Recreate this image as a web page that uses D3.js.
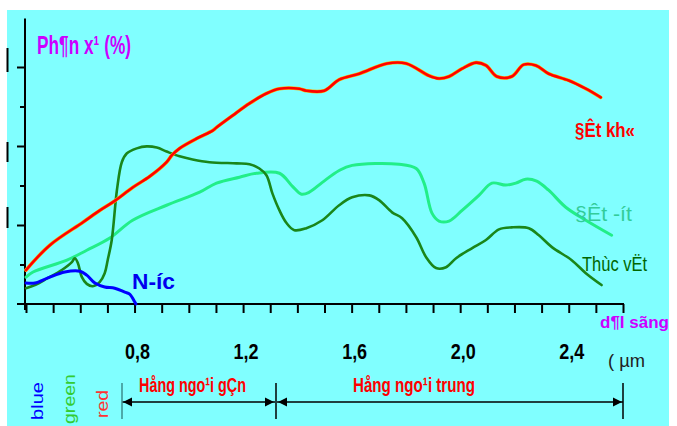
<!DOCTYPE html>
<html><head><meta charset="utf-8">
<script src="https://cdn.jsdelivr.net/npm/d3@7"></script>
<style>body{margin:0;background:#fff} svg{display:block}</style>
</head><body>
<svg id="c" width="677" height="426"></svg>
<script>
// ---- data (wavelength µm, reflectance %) ----
const datKho = [[0.40,8.6],[0.488,14.9],[0.61,20.7],[0.672,23.7],[0.727,26.1],[0.793,29.5],[0.856,32.3],[0.918,35.9],[0.937,37.6],[0.966,39.4],[1.029,41.9],[1.088,43.9],[1.102,44.7],[1.161,47.7],[1.224,50.8],[1.286,53.3],[1.334,54.5],[1.407,54.5],[1.433,54.0],[1.499,54.0],[1.554,56.8],[1.628,58.3],[1.731,60.9],[1.801,60.9],[1.885,57.8],[1.922,57.1],[1.959,57.6],[2.007,59.6],[2.058,61.1],[2.095,60.4],[2.135,57.6],[2.19,57.6],[2.234,60.6],[2.279,60.4],[2.326,58.3],[2.40,56.6],[2.463,54.5],[2.518,52.3]];
const thucVat = [[0.40,4.0],[0.433,4.8],[0.481,6.6],[0.532,8.6],[0.569,10.6],[0.58,11.6],[0.591,10.4],[0.606,6.8],[0.624,5.1],[0.646,4.5],[0.672,5.6],[0.69,7.8],[0.701,11.1],[0.716,16.2],[0.735,28.8],[0.753,35.9],[0.771,38.1],[0.808,39.4],[0.845,39.9],[0.882,39.6],[0.918,38.6],[0.966,37.4],[1.014,36.6],[1.076,35.9],[1.176,35.6],[1.224,35.4],[1.26,34.3],[1.286,32.6],[1.308,28.0],[1.334,23.7],[1.36,20.5],[1.389,18.7],[1.433,19.2],[1.492,21.2],[1.554,25.0],[1.602,27.0],[1.665,27.5],[1.701,26.3],[1.749,23.2],[1.786,21.7],[1.838,16.9],[1.874,11.9],[1.911,9.1],[1.948,9.3],[1.985,11.6],[2.043,14.1],[2.095,16.2],[2.143,18.9],[2.19,19.4],[2.253,19.2],[2.29,17.4],[2.338,14.4],[2.411,11.1],[2.463,7.8],[2.521,4.8]];
const datUot = [[0.40,6.8],[0.426,8.1],[0.551,11.1],[0.624,13.6],[0.709,16.7],[0.793,21.2],[0.918,25.0],[1.04,28.3],[1.102,30.6],[1.187,32.1],[1.249,33.1],[1.334,33.1],[1.382,29.8],[1.415,27.8],[1.444,28.3],[1.492,30.8],[1.554,33.8],[1.602,35.1],[1.775,35.4],[1.838,34.3],[1.867,30.6],[1.896,23.0],[1.922,21.0],[1.959,21.0],[2.007,23.7],[2.069,27.5],[2.117,30.6],[2.168,30.1],[2.205,30.6],[2.241,31.6],[2.282,31.1],[2.326,28.8],[2.389,24.5],[2.463,21.2],[2.558,17.4]];
const nuoc = [[0.40,5.3],[0.433,5.3],[0.481,6.6],[0.543,8.1],[0.599,8.3],[0.624,7.3],[0.654,5.3],[0.69,4.3],[0.727,4.0],[0.764,3.0],[0.782,2.5],[0.801,0.5],[0.805,0]];
const xTicks = d3.range(4, 27).map(d => d / 10);
const xLabels = [0.8, 1.2, 1.6, 2.0, 2.4];
const yMajor = [20, 40, 60];
const yMinor = [10, 30, 50];
const bands = [{name:"Hång ngo¹i gÇn", from:0.75, to:1.31}, {name:"Hång ngo¹i trung", from:1.31, to:2.6}];

const NARROW = "'Liberation Sans Narrow','Arial Narrow','Liberation Sans',Arial,sans-serif";
const svg = d3.select('#c');
svg.append('rect').attr('x',7).attr('y',10).attr('width',662).attr('height',416).attr('fill','#80FFFF');

const x = d3.scaleLinear().domain([0.4, 2.6]).range([26, 623]);
const y = d3.scaleLinear().domain([0, 60]).range([304, 67]);

// small marks at the left edge
[[48,72],[142,162],[207,228]].forEach(([a,b]) =>
  svg.append('line').attr('x1',7.5).attr('x2',7.5).attr('y1',a).attr('y2',b).attr('stroke','#000').attr('stroke-width',2));

// y axis
svg.append('line').attr('x1',25).attr('x2',25).attr('y1',y(0)+6).attr('y2',y(72.3)).attr('stroke','#000').attr('stroke-width',2);
const gyM = svg.append('g').attr('transform','translate(25,0)').call(d3.axisLeft(y).tickValues(yMajor).tickSize(8).tickFormat(''));
const gym = svg.append('g').attr('transform','translate(25,0)').call(d3.axisLeft(y).tickValues(yMinor).tickSize(5).tickFormat(''));
[gyM, gym].forEach(g => { g.select('.domain').remove(); g.selectAll('line').attr('stroke','#000').attr('stroke-width',2); });

// x axis
svg.append('line').attr('x1',17).attr('x2',x(2.6)+1).attr('y1',304).attr('y2',304).attr('stroke','#000').attr('stroke-width',2);
const gx = svg.append('g').attr('transform','translate(0,304)').call(d3.axisBottom(x).tickValues(xTicks).tickSize(9).tickFormat(''));
gx.select('.domain').remove();
gx.selectAll('line').attr('stroke','#000').attr('stroke-width',2);

svg.selectAll('.xl').data(xLabels).enter().append('text')
  .attr('x', d => x(d) + 3).attr('y', 359).attr('text-anchor','middle')
  .attr('font-family', NARROW).attr('font-weight','bold').attr('font-size',22).attr('fill','#000')
  .attr('textLength', 25).attr('lengthAdjust','spacingAndGlyphs')
  .text(d => d.toFixed(1).replace('.', ','));

// curves
const line = d3.line().x(d => x(d[0])).y(d => y(d[1])).curve(d3.curveCatmullRom.alpha(0.5));
function path(data, color, w){ svg.append('path').datum(data).attr('d', line).attr('fill','none').attr('stroke',color).attr('stroke-width',w).attr('stroke-linejoin','round').attr('stroke-linecap','round'); }
path(datUot, '#22EE88', 3);
path(thucVat, '#1A861A', 2.6);
path(datKho, '#FFB000', 3.6);
path(datKho, '#FF0000', 2.6);
path(nuoc, '#0000FF', 3);

// text helper
function txt(s, px, py, size, color, weight, len, family){
  const t = svg.append('text').attr('x',px).attr('y',py).attr('font-size',size).attr('fill',color)
    .attr('font-family', family || NARROW).attr('font-weight', weight || 'normal').text(s);
  if (len) t.attr('textLength', len).attr('lengthAdjust','spacingAndGlyphs');
  return t;
}
txt('Ph¶n x¹ (%)', 37, 54, 25, '#CC00FF', 'bold', 94);
txt('§Êt kh«', 575, 137, 21, '#FF0000', 'bold', 60);
txt('§Êt -ít', 575, 221, 20, '#33CC99', 'normal', 57);
txt('Thùc vËt', 582, 271, 21, '#006600', 'normal', 65);
txt('N-íc', 132, 289, 22, '#0000EE', 'bold', 43);
txt('d¶I sãng', 600, 328, 17, '#CC00FF', 'bold', null);
txt('( µm', 608, 367, 19, '#222', 'normal', 37);

// vertical colour words
[['blue','#0000FF',43,382,38],['green','#33CC33',75,374,50],['red','#FF3333',108,390,28]].forEach(([s,c,px,py,len]) => {
  svg.append('text').attr('transform',`translate(${px},${py}) rotate(-90)`).attr('text-anchor','end')
    .attr('font-family', "'Liberation Sans',Arial,sans-serif").attr('font-size',17).attr('fill',c)
    .attr('textLength',len).attr('lengthAdjust','spacingAndGlyphs').text(s);
});

// band arrows
const ay = 402;
function arrowHead(px, dir){ // dir -1 points left, +1 points right
  svg.append('path').attr('d', `M${px},${ay} L${px - dir*9},${ay-4.5} L${px - dir*9},${ay+4.5} Z`).attr('fill','#000');
}
bands.forEach((b, i) => {
  const xa = i === 0 ? 122 : 277;
  const xb = i === 0 ? 275 : x(b.to);
  svg.append('line').attr('x1',xa).attr('x2',xb).attr('y1',ay).attr('y2',ay).attr('stroke','#000').attr('stroke-width',1.5);
  arrowHead(xa + 1, -1); arrowHead(xb - 1, 1);
});
[[122,'#3D8C8C'],[276,'#000'],[x(2.6),'#000']].forEach(([px,c]) =>
  svg.append('line').attr('x1',px).attr('x2',px).attr('y1',383).attr('y2',419).attr('stroke',c).attr('stroke-width',1.5));
txt(bands[0].name, 139, 392, 21, '#FF0000', 'bold', 107);
txt(bands[1].name, 353, 392, 21, '#FF0000', 'bold', 122);
</script>
</body></html>
